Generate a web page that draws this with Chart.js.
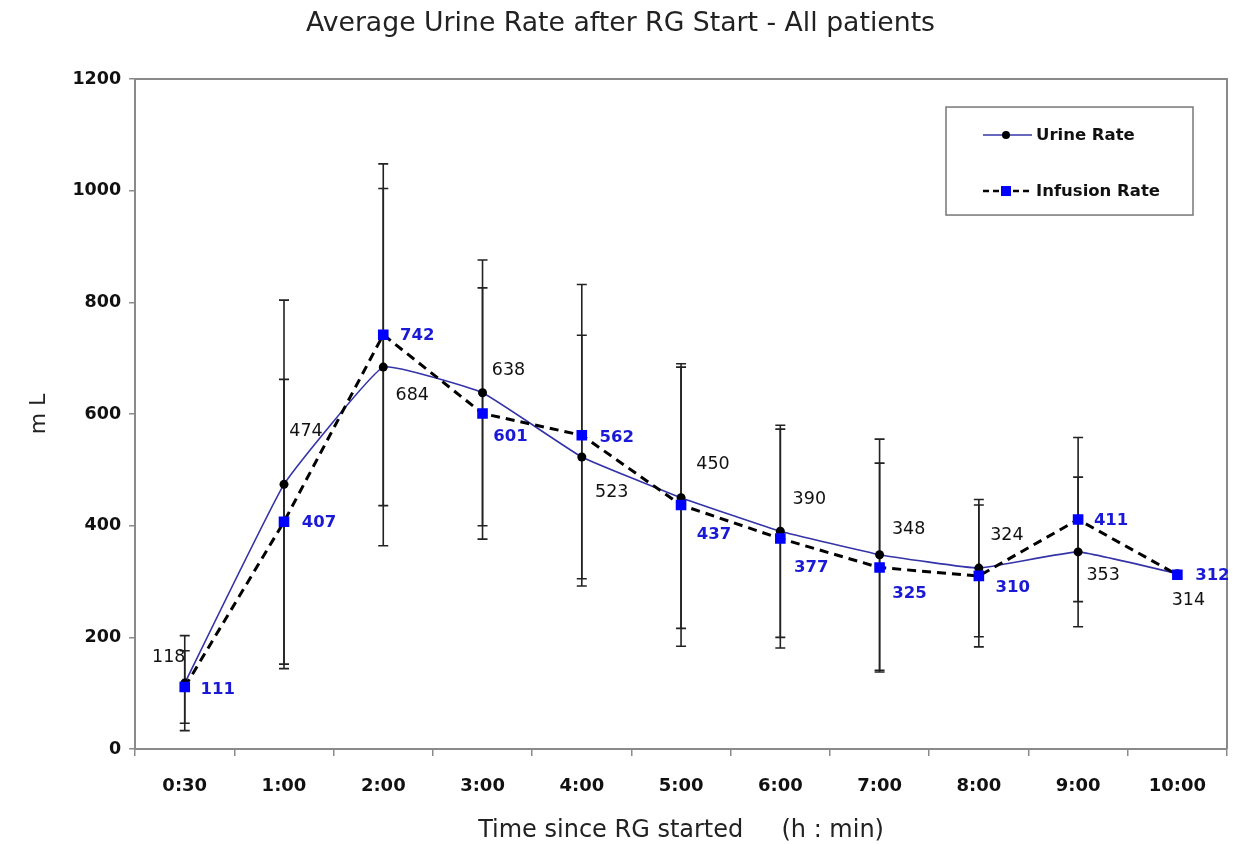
<!DOCTYPE html>
<html><head><meta charset="utf-8">
<script src="https://cdn.jsdelivr.net/npm/chart.js@4.4.1/dist/chart.umd.min.js"></script>
<style>html,body{margin:0;padding:0;background:#fff;overflow:hidden}#wrap{width:1251px;height:844px}</style>
</head><body><div id="wrap"><canvas id="c" width="1251" height="844"></canvas></div>
<script>
// ---- data ----
const categories = ['0:30','1:00','2:00','3:00','4:00','5:00','6:00','7:00','8:00','9:00','10:00'];
const urineRate = [118,474,684,638,523,450,390,348,324,353,314];
const infusionRate = [111,407,742,601,562,437,377,325,310,411,312];
const urineSD = [85,330,320,238,218,234,190,207,123,134,null];
const infusionSD = [65,255,306,225,270,253,196,187,127,147,null];
const yTicks = [0,200,400,600,800,1000,1200];
const seriesNames = ['Urine Rate','Infusion Rate'];
const titleText = 'Average Urine Rate after RG Start - All patients';
const xTitleText = 'Time since RG started     (h : min)';
const yTitleText = 'm L';
// ---- label placement (pixel offsets from each point, layout only) ----
const urineLabelOffsets = [[-16,-26],[22,-53],[29,28],[26,-22],[30,35],[32,-33],[29,-32],[29,-25],[28,-33],[25,24],[11,27]];
const infusionLabelOffsets = [[33,3],[35,1],[34,1],[28,23],[35,2],[33,30],[31,29],[30,26],[34,12],[33,1],[35,1]];

const FONT = '"DejaVu Sans", sans-serif';
const URINE_COLOR = '#3434a8';
const INF_POINT = '#0000ff';
const AXIS_GRAY = '#8a8a8a';

const errorBarPlugin = {
  id: 'errorBars',
  beforeDatasetsDraw(chart) {
    const {ctx, scales: {x, y}} = chart;
    ctx.save();
    ctx.strokeStyle = '#222';
    ctx.lineWidth = 1.6;
    const sets = [[urineRate, urineSD], [infusionRate, infusionSD]];
    sets.forEach(([vals, sds]) => {
      vals.forEach((v, i) => {
        const sd = sds[i];
        if (sd == null) return;
        const px = x.getPixelForValue(i);
        const top = y.getPixelForValue(v + sd);
        const bot = y.getPixelForValue(v - sd);
        ctx.beginPath();
        ctx.moveTo(px, top); ctx.lineTo(px, bot);
        ctx.moveTo(px - 5, top); ctx.lineTo(px + 5, top);
        ctx.moveTo(px - 5, bot); ctx.lineTo(px + 5, bot);
        ctx.stroke();
      });
    });
    ctx.restore();
  }
};

const framePlugin = {
  id: 'frame',
  beforeDatasetsDraw(chart) {
    const {ctx, chartArea: a} = chart;
    ctx.save();
    ctx.strokeStyle = AXIS_GRAY;
    ctx.lineWidth = 2;
    ctx.beginPath();
    ctx.moveTo(a.left, a.top); ctx.lineTo(a.right, a.top); ctx.lineTo(a.right, a.bottom);
    ctx.stroke();
    ctx.restore();
  }
};

const labelPlugin = {
  id: 'valueLabels',
  afterDatasetsDraw(chart) {
    const {ctx, scales: {x, y}} = chart;
    ctx.save();
    ctx.textAlign = 'center';
    ctx.textBaseline = 'middle';
    ctx.font = '17.5px ' + FONT;
    ctx.fillStyle = '#111';
    urineRate.forEach((v, i) => {
      const o = urineLabelOffsets[i];
      ctx.fillText(String(v), x.getPixelForValue(i) + o[0], y.getPixelForValue(v) + o[1]);
    });
    ctx.font = 'bold 16.5px ' + FONT;
    ctx.fillStyle = '#1a1ad6';
    infusionRate.forEach((v, i) => {
      const o = infusionLabelOffsets[i];
      ctx.fillText(String(v), x.getPixelForValue(i) + o[0], y.getPixelForValue(v) + o[1]);
    });
    ctx.restore();
  }
};

const legendPlugin = {
  id: 'boxLegend',
  afterDraw(chart) {
    const {ctx, chartArea: a} = chart;
    const bx = a.right - 281, by = a.top + 28, bw = 247, bh = 108;
    ctx.save();
    ctx.fillStyle = '#fff';
    ctx.fillRect(bx, by, bw, bh);
    ctx.strokeStyle = '#777';
    ctx.lineWidth = 1.5;
    ctx.strokeRect(bx, by, bw, bh);
    const lx0 = bx + 37, lx1 = bx + 86, mx = bx + 60;
    const y1 = by + 28, y2 = by + 84;
    // urine
    ctx.strokeStyle = URINE_COLOR; ctx.lineWidth = 1.5;
    ctx.beginPath(); ctx.moveTo(lx0, y1); ctx.lineTo(lx1, y1); ctx.stroke();
    ctx.fillStyle = '#000';
    ctx.beginPath(); ctx.arc(mx, y1, 4, 0, Math.PI * 2); ctx.fill();
    // infusion
    ctx.strokeStyle = '#000'; ctx.lineWidth = 2.5; ctx.setLineDash([6, 4]);
    ctx.beginPath(); ctx.moveTo(lx0, y2); ctx.lineTo(lx1, y2); ctx.stroke();
    ctx.setLineDash([]);
    ctx.fillStyle = INF_POINT;
    ctx.fillRect(mx - 5, y2 - 5, 10, 10);
    ctx.fillStyle = '#111';
    ctx.font = 'bold 16.5px ' + FONT;
    ctx.textAlign = 'left'; ctx.textBaseline = 'middle';
    ctx.fillText(seriesNames[0], bx + 90, y1 + 1);
    ctx.fillText(seriesNames[1], bx + 90, y2 + 1);
    ctx.restore();
  }
};

new Chart(document.getElementById('c'), {
  type: 'line',
  data: {
    labels: categories,
    datasets: [
      {
        label: seriesNames[0],
        data: urineRate,
        borderColor: URINE_COLOR,
        borderWidth: 1.6,
        pointStyle: 'circle',
        pointRadius: 4.5,
        pointBackgroundColor: '#000',
        pointBorderColor: '#000',
        pointBorderWidth: 0,
        tension: 0.1,
        order: 1
      },
      {
        label: seriesNames[1],
        data: infusionRate,
        borderColor: '#000',
        borderWidth: 3,
        borderDash: [9, 6],
        pointStyle: 'rect',
        pointRadius: 7.5,
        pointBackgroundColor: INF_POINT,
        pointBorderColor: INF_POINT,
        pointBorderWidth: 0,
        tension: 0,
        order: 0
      }
    ]
  },
  options: {
    responsive: false,
    animation: false,
    devicePixelRatio: 1,
    layout: { padding: { left: 14, right: 24, top: 0, bottom: 0 } },
    plugins: {
      legend: { display: false },
      tooltip: { enabled: false },
      title: {
        display: true,
        text: titleText,
        color: '#222',
        font: { family: FONT, size: 26.7, weight: 'normal' },
        padding: { top: 8, bottom: 39 }
      }
    },
    scales: {
      x: {
        type: 'category',
        offset: true,
        grid: { display: true, offset: true, drawOnChartArea: false, drawTicks: true, tickLength: 7, color: AXIS_GRAY, lineWidth: 1.5 },
        border: { display: true, color: AXIS_GRAY, width: 2 },
        ticks: { color: '#111', font: { family: FONT, size: 18, weight: 'bold' }, padding: 20, maxRotation: 0, autoSkip: false },
        title: { display: true, text: xTitleText, color: '#222', font: { family: FONT, size: 24, weight: 'normal', lineHeight: 1.1 }, padding: { top: 0, bottom: 0 } }
      },
      y: {
        min: 0, max: 1200,
        afterBuildTicks: s => { s.ticks = yTicks.map(v => ({ value: v })); },
        grid: { display: true, drawOnChartArea: false, drawTicks: true, tickLength: 6, color: AXIS_GRAY, lineWidth: 1.5 },
        border: { display: true, color: AXIS_GRAY, width: 2 },
        ticks: { color: '#111', font: { family: FONT, size: 17.5, weight: 'bold' }, padding: 8, callback: v => String(v) },
        title: { display: true, text: yTitleText, color: '#222', font: { family: FONT, size: 22, weight: 'normal' }, padding: 12 }
      }
    }
  },
  plugins: [framePlugin, errorBarPlugin, labelPlugin, legendPlugin]
});
</script></body></html>
